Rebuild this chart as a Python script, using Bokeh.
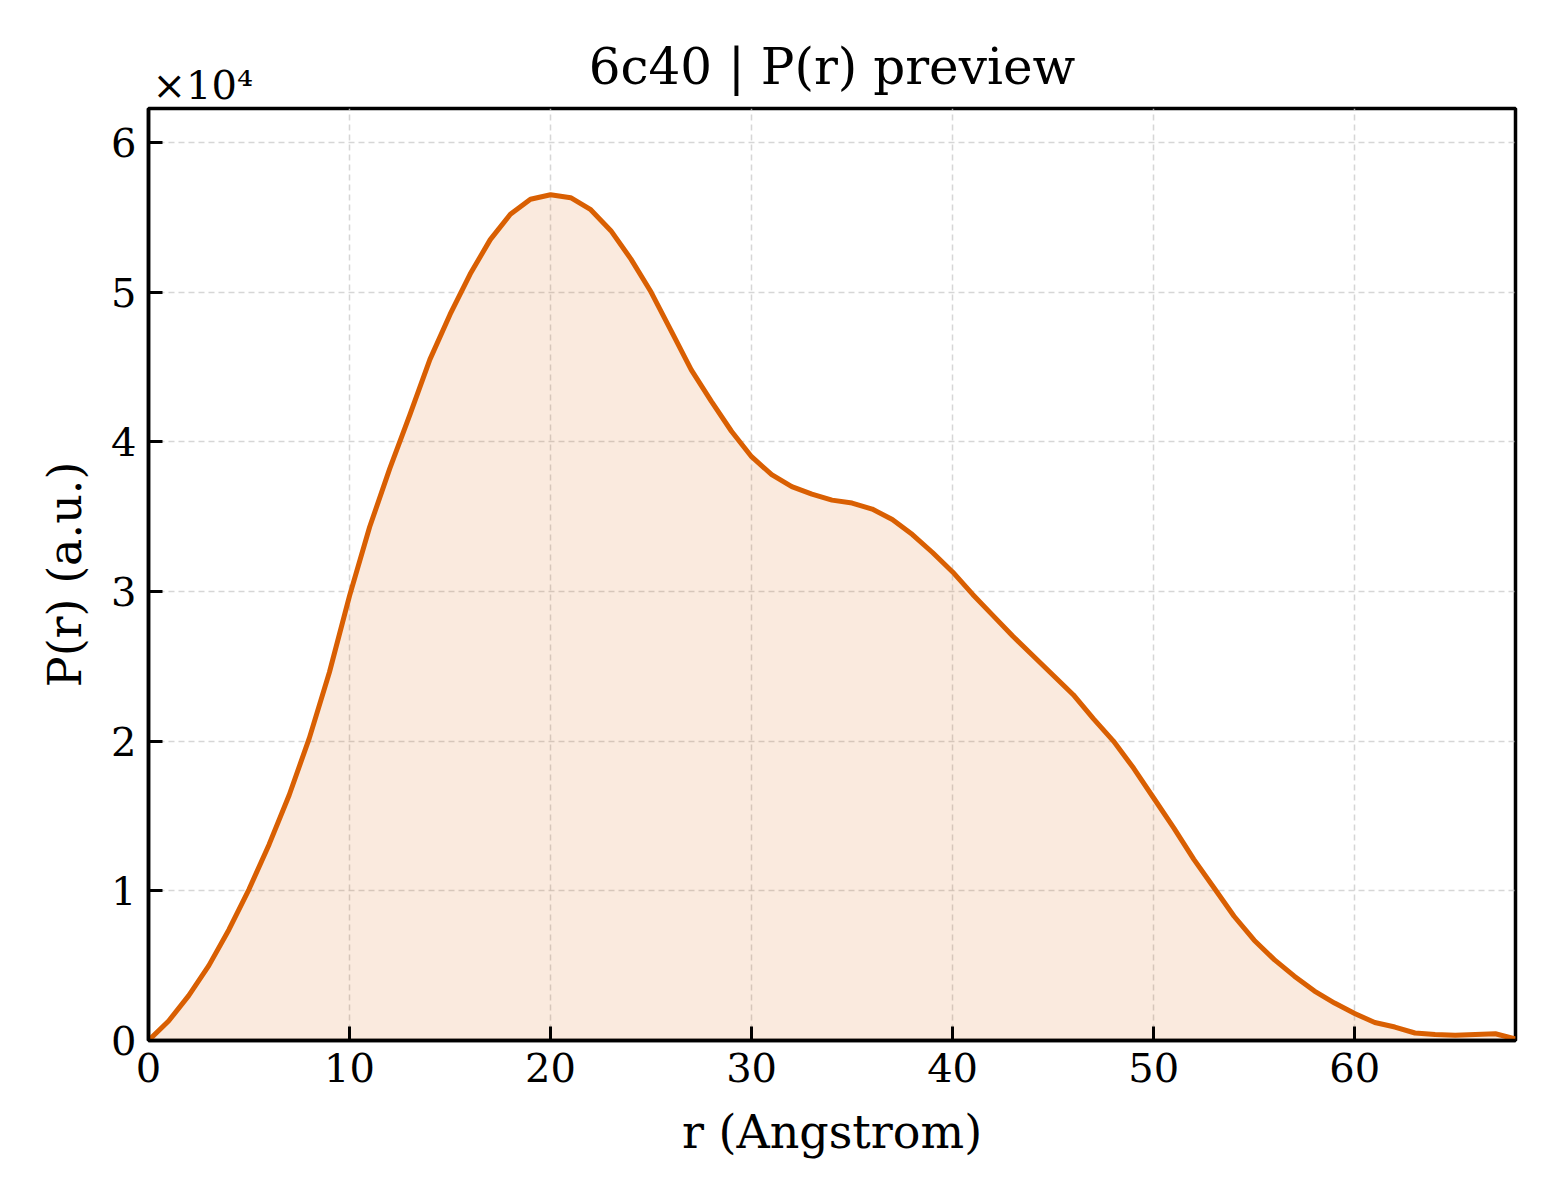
from bokeh.plotting import figure
from bokeh.models import Range1d, FixedTicker, CustomJSTickFormatter, Title
from bokeh.embed import file_html
from bokeh.resources import INLINE

# distance r (Angstrom), integer steps
r = list(range(0, 69))

# P(r), arbitrary units
p_r = [
    0, 1300, 3000, 5000, 7400, 10100, 13100, 16400, 20200, 24600,
    29700, 34300, 38200, 41800, 45500, 48500, 51200, 53500, 55200, 56200,
    56500, 56300, 55500, 54100, 52200, 50000, 47400, 44800, 42700, 40700,
    39000, 37800, 37000, 36500, 36100, 35900, 35500, 34800, 33800, 32600,
    31300, 29800, 28400, 27000, 25700, 24400, 23100, 21500, 20000, 18200,
    16200, 14200, 12100, 10200, 8300, 6700, 5400, 4300, 3300, 2500,
    1800, 1200, 900, 500, 400, 350, 400, 450, 100,
]

x_ticks = [0, 10, 20, 30, 40, 50, 60]
y_ticks = [0, 10000, 20000, 30000, 40000, 50000, 60000]

FONT = "DejaVu Serif"
ORANGE = "#d95f02"

p = figure(width=1552, height=1190, output_backend="svg", toolbar_location=None,
           x_range=Range1d(0, 68), y_range=Range1d(0, 62260),
           min_border_left=148, min_border_right=37,
           min_border_top=108, min_border_bottom=150)

p.varea(x=r, y1=[0] * len(r), y2=p_r, fill_color=ORANGE, fill_alpha=0.13)
p.line(r, p_r, line_color=ORANGE, line_width=5, line_join="round")

p.title.text = "6c40 | P(r) preview"
p.title.align = "center"
p.title.vertical_align = "bottom"
p.title.text_font = FONT
p.title.text_font_size = "50px"
p.title.text_font_style = "normal"
p.title.text_color = "black"
p.title.standoff = -74

# scale factor shown above the y axis, like matplotlib's offset text
p.add_layout(Title(text="×10⁴", align="left", text_font=FONT, text_font_size="40px",
                   text_font_style="normal", text_color="black", standoff=2,
                   offset=4), "above")

p.xaxis.ticker = FixedTicker(ticks=x_ticks)
p.yaxis.ticker = FixedTicker(ticks=y_ticks)
p.yaxis.formatter = CustomJSTickFormatter(code="return (tick / 1e4).toFixed(0);")
p.xaxis.axis_label = "r (Angstrom)"
p.yaxis.axis_label = "P(r) (a.u.)"

for ax in (p.xaxis, p.yaxis):
    ax.axis_label_text_font = FONT
    ax.axis_label_text_font_size = "46px"
    ax.axis_label_text_font_style = "normal"
    ax.axis_label_text_color = "black"
    ax.major_label_text_font = FONT
    ax.major_label_text_font_size = "40px"
    ax.major_label_text_color = "black"
    ax.major_tick_in = 14
    ax.major_tick_out = 0
    ax.minor_tick_in = 0
    ax.minor_tick_out = 0
    ax.major_tick_line_width = 3
    ax.major_tick_line_color = "black"
    ax.axis_line_width = 3.5
    ax.axis_line_color = "black"
    ax.major_label_standoff = 12
p.xaxis.axis_label_standoff = 20
p.yaxis.axis_label_standoff = 16

p.outline_line_color = "black"
p.outline_line_width = 3.5
p.outline_line_alpha = 1

p.grid.grid_line_color = "#cccccc"
p.grid.grid_line_alpha = 0.8
p.grid.grid_line_width = 1.5
p.grid.grid_line_dash = "6 4"

open("out.html", "w").write(file_html(p, INLINE))
